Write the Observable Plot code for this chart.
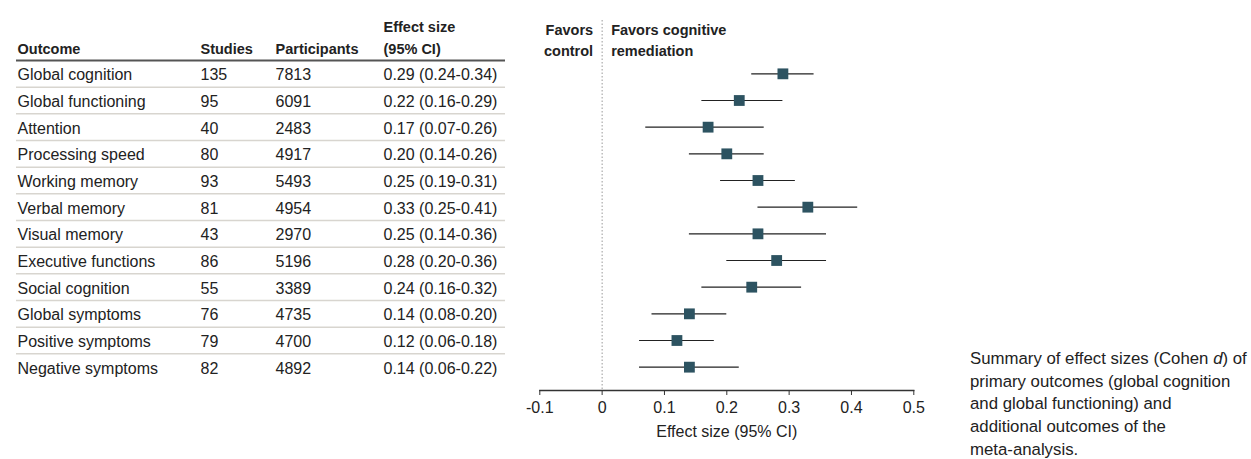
<!DOCTYPE html>
<html>
<head>
<meta charset="utf-8">
<script src="https://cdn.jsdelivr.net/npm/d3@7"></script>
<script src="https://cdn.jsdelivr.net/npm/@observablehq/plot@0.6"></script>
<style>
  html, body { margin: 0; padding: 0; background: #fff; }
  #wrap { position: relative; width: 1251px; height: 459px; overflow: hidden; font-family: "Liberation Sans", Arial, sans-serif; color: #222; }
  #row { display: flex; flex-direction: row; }
  #caption { position: absolute; left: 970px; top: 348px; font-size: 16.8px; line-height: 22.7px; white-space: nowrap; color: #222; }
</style>
</head>
<body>
<div id="wrap">
  <div id="row"></div>
  <div id="caption">Summary of effect sizes (Cohen <i>d</i>) of<br>primary outcomes (global cognition<br>and global functioning) and<br>additional outcomes of the<br>meta-analysis.</div>
</div>
<script>
const outcomes = ["Global cognition", "Global functioning", "Attention", "Processing speed", "Working memory", "Verbal memory", "Visual memory", "Executive functions", "Social cognition", "Global symptoms", "Positive symptoms", "Negative symptoms"];
const studies = [135, 95, 40, 80, 93, 81, 43, 86, 55, 76, 79, 82];
const participants = [7813, 6091, 2483, 4917, 5493, 4954, 2970, 5196, 3389, 4735, 4700, 4892];
const estimates = [0.29, 0.22, 0.17, 0.20, 0.25, 0.33, 0.25, 0.28, 0.24, 0.14, 0.12, 0.14];
const lower = [0.24, 0.16, 0.07, 0.14, 0.19, 0.25, 0.14, 0.20, 0.16, 0.08, 0.06, 0.06];
const upper = [0.34, 0.29, 0.26, 0.26, 0.31, 0.41, 0.36, 0.36, 0.32, 0.20, 0.18, 0.22];
const xTicks = [-0.1, 0, 0.1, 0.2, 0.3, 0.4, 0.5];
const xDomain = [-0.1, 0.5];
const headerOutcome = "Outcome";
const headerStudies = "Studies";
const headerParticipants = "Participants";
const headerEffect = "Effect size\n(95% CI)";
const favorsControl = "Favors\ncontrol";
const favorsTreatment = "Favors cognitive\nremediation";
const xLabel = "Effect size (95% CI)";

const rows = outcomes.map((o, i) => ({
  i, outcome: o, studies: studies[i], participants: participants[i],
  est: estimates[i], lo: lower[i], hi: upper[i],
  label: `${estimates[i].toFixed(2)} (${lower[i].toFixed(2)}-${upper[i].toFixed(2)})`
}));

const H = 459;
const common = {
  height: H,
  marginTop: 20,
  marginBottom: 69,
  insetTop: 40,
  insetBottom: 10,
  y: {domain: [-0.5, outcomes.length - 0.5], reverse: true, axis: null},
  style: {fontFamily: "'Liberation Sans', Arial, sans-serif", fontSize: "16px", color: "#222", background: "white", overflow: "visible"}
};

const ink = "#222";
const headSize = 14.5;

const table = Plot.plot({
  ...common,
  width: 520,
  marginLeft: 16,
  marginRight: 15,
  marks: [
    Plot.ruleY(rows.slice(0, -1), {y: d => d.i + 0.5, stroke: "#d8d5cf", strokeWidth: 1.5}),
    Plot.ruleY([-0.5], {stroke: "#555", strokeWidth: 1.8}),
    Plot.text([headerOutcome], {y: [-0.5], text: d => d, frameAnchor: "left", textAnchor: "start", lineAnchor: "bottom", dx: 1, dy: -7, fontWeight: "bold", fontSize: headSize, fill: ink}),
    Plot.text([headerStudies], {y: [-0.5], text: d => d, frameAnchor: "left", textAnchor: "start", lineAnchor: "bottom", dx: 184, dy: -7, fontWeight: "bold", fontSize: headSize, fill: ink}),
    Plot.text([headerParticipants], {y: [-0.5], text: d => d, frameAnchor: "left", textAnchor: "start", lineAnchor: "bottom", dx: 259, dy: -7, fontWeight: "bold", fontSize: headSize, fill: ink}),
    Plot.text([headerEffect], {y: [-0.5], text: d => d, frameAnchor: "left", textAnchor: "start", lineAnchor: "bottom", lineHeight: 1.45, dx: 367, dy: -7, fontWeight: "bold", fontSize: headSize, fill: ink}),
    Plot.text(rows, {y: "i", text: "outcome", frameAnchor: "left", textAnchor: "start", dx: 1, dy: 1.5, fontSize: 16, fill: ink}),
    Plot.text(rows, {y: "i", text: d => String(d.studies), frameAnchor: "left", textAnchor: "start", dx: 184, dy: 1.5, fontSize: 16, fill: ink}),
    Plot.text(rows, {y: "i", text: d => String(d.participants), frameAnchor: "left", textAnchor: "start", dx: 259, dy: 1.5, fontSize: 16, fill: ink}),
    Plot.text(rows, {y: "i", text: "label", frameAnchor: "left", textAnchor: "start", dx: 367, dy: 1.5, fontSize: 16, fill: ink})
  ]
});

const forest = Plot.plot({
  ...common,
  width: 731,
  marginLeft: 19.3,
  marginRight: 337.7,
  x: {domain: xDomain, axis: null},
  marks: [
    Plot.ruleX([0], {stroke: "#999", strokeDasharray: "1.5,2"}),
    Plot.frame({anchor: "bottom", stroke: "#333", strokeWidth: 1.3}),
    Plot.axisX({ticks: xTicks, tickFormat: d => d === 0 ? "0" : d.toFixed(1), tickSize: 5, tickPadding: 6, fontSize: 16, stroke: "#333", label: null}),
    Plot.text([xLabel], {text: d => d, frameAnchor: "bottom", lineAnchor: "middle", dy: 41, fontSize: 16, fill: ink}),
    Plot.text([favorsControl], {x: [0], text: d => d, frameAnchor: "top", lineAnchor: "top", textAnchor: "end", dx: -9, lineHeight: 1.45, fontWeight: "bold", fontSize: headSize, fill: ink}),
    Plot.text([favorsTreatment], {x: [0], text: d => d, frameAnchor: "top", lineAnchor: "top", textAnchor: "start", dx: 9, lineHeight: 1.45, fontWeight: "bold", fontSize: headSize, fill: ink}),
    Plot.ruleY(rows, {y: "i", x1: "lo", x2: "hi", stroke: "#222", strokeWidth: 1.2}),
    Plot.dot(rows, {y: "i", x: "est", symbol: "square", r: 6.1, fill: "#2d5361", stroke: "none"})
  ]
});

document.getElementById("row").append(table, forest);
</script>
</body>
</html>
